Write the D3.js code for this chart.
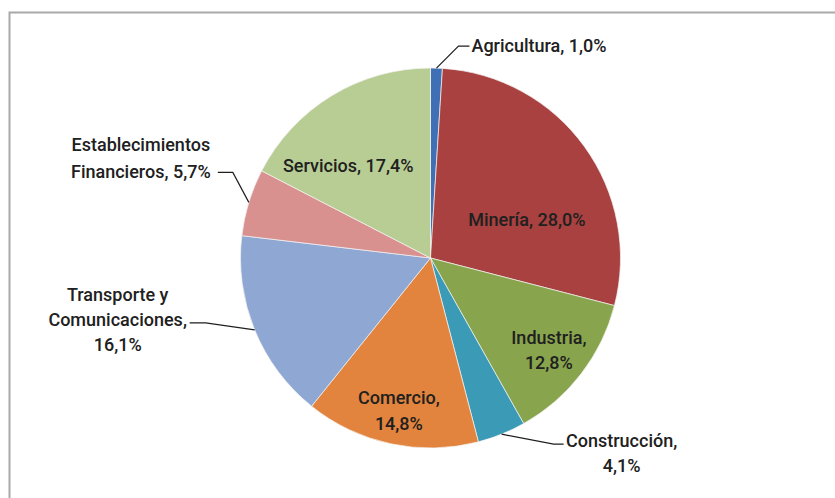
<!DOCTYPE html>
<html>
<head>
<meta charset="utf-8">
<script src="https://cdn.jsdelivr.net/npm/d3@7"></script>
<style>
  html, body { margin: 0; padding: 0; background: #fff; overflow: hidden; }
  svg { display: block; }
  text { font-family: Roboto, "Open Sans", sans-serif; font-size: 18px; font-weight: 500; fill: #202020; }
</style>
</head>
<body>
<svg id="chart" width="835" height="498"></svg>
<script>
// Sector shares of GDP (%), clockwise from 12 o'clock
const sectors = ['Agricultura', 'Minería', 'Industria', 'Construcción', 'Comercio',
                 'Transporte y Comunicaciones', 'Establecimientos Financieros', 'Servicios'];
const shares = [1.0, 28.0, 12.8, 4.1, 14.8, 16.1, 5.7, 17.4];
const valueLabels = ['1,0%', '28,0%', '12,8%', '4,1%', '14,8%', '16,1%', '5,7%', '17,4%'];
// how each label is broken into lines
const labelLines = [
    ['Agricultura, 1,0%'],
    ['Minería, 28,0%'],
    ['Industria,', '12,8%'],
    ['Construcción,', '4,1%'],
    ['Comercio,', '14,8%'],
    ['Transporte y', 'Comunicaciones,', '16,1%'],
    ['Establecimientos', 'Financieros, 5,7%'],
    ['Servicios, 17,4%']
];
const sliceColors = ['#3f6fb4', '#a8413f', '#88a54d', '#3b9ab6', '#e2843e', '#8fa8d3', '#d9918f', '#b8cd94'];

const width = 835;
const height = 498;
const cx = 430.5, cy = 258, radius = 190;

// label placement: inside labels sit near the centroid, outside ones get a leader line
const layout = [
    {out: true, ex: 22, ey: -22, hx: 11, tx: 2, anchor: 'start', dy: [-1]},
    {out: false, dx: 1, dy: [31]},
    {out: false, dx: 25, dy: [8, 33]},
    {out: true, ex: 52, ey: 10, hx: 10, tx: 58, anchor: 'middle', dy: [-4, 21]},
    {out: false, dx: -7, dy: [24, 50]},
    {out: true, ex: -49, ey: -7, hx: -16, tx: -72, anchor: 'middle', dy: [-28, -3, 22]},
    {out: true, ex: -16, ey: -30, hx: -15, tx: -77, anchor: 'middle', dy: [-28, -1]},
    {out: false, dx: -21, dy: [8]}
];

const data = sectors.map((s, i) => ({sector: s, value: shares[i], label: valueLabels[i], lines: labelLines[i], color: sliceColors[i], lay: layout[i]}));

const svg = d3.select('#chart')
    .attr('viewBox', [0, 0, width, height]);

// white background so nothing shows through at the right edge
svg.append('rect')
    .attr('x', 0).attr('y', 0)
    .attr('width', width).attr('height', height)
    .attr('fill', '#fff');

// chart frame: only top and left edges show, the rest runs off the picture
svg.append('path')
    .attr('d', `M9.5,${height} V12.5 H${width}`)
    .attr('fill', 'none')
    .attr('stroke', '#a9a9a9')
    .attr('stroke-width', 2);

const pie = d3.pie().sort(null).value(d => d.value);
const arcs = pie(data);

const arc = d3.arc().innerRadius(0).outerRadius(radius);
const edgeArc = d3.arc().innerRadius(radius).outerRadius(radius);
const innerArc = d3.arc().innerRadius(radius * 0.62).outerRadius(radius * 0.62);

const g = svg.append('g').attr('transform', `translate(${cx},${cy})`);

g.selectAll('path.slice')
    .data(arcs)
    .enter().append('path')
    .attr('class', 'slice')
    .attr('d', arc)
    .attr('fill', d => d.data.color)
    .attr('stroke', '#f4f4f4')
    .attr('stroke-width', 0.7);

// leader lines for outside labels
const outside = arcs.filter(d => d.data.lay.out);

g.selectAll('polyline.leader')
    .data(outside)
    .enter().append('polyline')
    .attr('class', 'leader')
    .attr('fill', 'none')
    .attr('stroke', '#1e1e1e')
    .attr('stroke-width', 1.2)
    .attr('points', d => {
        const l = d.data.lay;
        const [x0, y0] = edgeArc.centroid(d);
        const x1 = x0 + l.ex, y1 = y0 + l.ey;
        return [[x0, y0], [x1, y1], [x1 + l.hx, y1]].map(p => p.join(',')).join(' ');
    });

// labels
const labels = g.selectAll('text.label')
    .data(arcs)
    .enter().append('text')
    .attr('class', 'label')
    .attr('text-anchor', d => d.data.lay.out ? d.data.lay.anchor : 'middle')
    .attr('transform', d => {
        const l = d.data.lay;
        if (l.out) {
            const [x0, y0] = edgeArc.centroid(d);
            return `translate(${x0 + l.ex + l.hx + l.tx},${y0 + l.ey})`;
        }
        const [x, y] = innerArc.centroid(d);
        return `translate(${x + l.dx},0)`;
    });

labels.selectAll('tspan')
    .data(d => d.data.lines.map((t, i) => ({t, d, i})))
    .enter().append('tspan')
    .attr('x', 0)
    .attr('y', o => {
        if (o.d.data.lay.out) return o.d.data.lay.dy[o.i];
        const [, y] = innerArc.centroid(o.d);
        return y + o.d.data.lay.dy[o.i];
    })
    .attr('dominant-baseline', 'central')
    .text(o => o.t);
</script>
</body>
</html>
